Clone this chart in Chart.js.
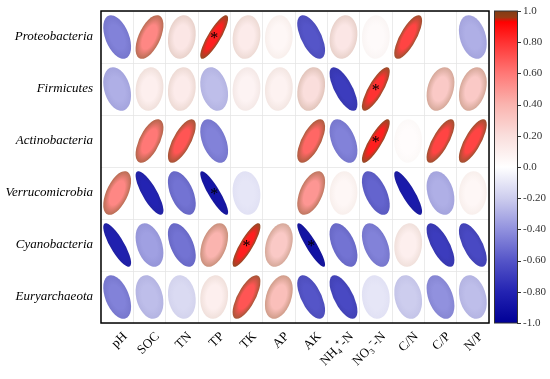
<!DOCTYPE html>
<html>
<head>
<meta charset="utf-8">
<script src="https://cdn.jsdelivr.net/npm/chart.js@4.4.0/dist/chart.umd.min.js"></script>
<style>
  html, body { margin: 0; padding: 0; background: #fff; }
  #wrap { width: 550px; height: 379px; }
</style>
</head>
<body>
<div id="wrap"><canvas id="corrChart"></canvas></div>
<script>
// row / column names
const taxa = ['Proteobacteria', 'Firmicutes', 'Actinobacteria', 'Verrucomicrobia', 'Cyanobacteria', 'Euryarchaeota'];
const soilVars = ['pH', 'SOC', 'TN', 'TP', 'TK', 'AP', 'AK', 'NH\u2084\u207A-N', 'NO\u2083\u207B-N', 'C/N', 'C/P', 'N/P'];

// correlation coefficients, one array per phylum
const proteobacteria  = [-0.45, 0.55, 0.15, 0.85, 0.12, 0.05, -0.60, 0.15, 0.03, 0.75, 0.00, -0.30];
const firmicutes      = [-0.30, 0.10, 0.12, -0.25, 0.07, 0.08, 0.20, -0.70, 0.80, 0.00, 0.30, 0.30];
const actinobacteria  = [0.00, 0.60, 0.70, -0.45, 0.00, 0.00, 0.65, -0.45, 0.85, 0.02, 0.75, 0.75];
const verrucomicrobia = [0.55, -0.80, -0.50, -0.88, -0.10, 0.00, 0.50, 0.05, -0.55, -0.85, -0.30, 0.05];
const cyanobacteria   = [-0.82, -0.35, -0.50, 0.40, 0.85, 0.30, -0.90, -0.50, -0.45, 0.10, -0.70, -0.65];
const euryarchaeota   = [-0.45, -0.25, -0.15, 0.10, 0.70, 0.35, -0.60, -0.65, -0.10, -0.20, -0.40, -0.25];
const rows = [proteobacteria, firmicutes, actinobacteria, verrucomicrobia, cyanobacteria, euryarchaeota];

// significant cells [row, col]
const stars = [[0, 3], [1, 8], [2, 8], [3, 3], [4, 4], [4, 6]];

// colour bar ticks
const barTicks = [-1, -0.8, -0.6, -0.4, -0.2, 0, 0.2, 0.4, 0.6, 0.8, 1];

// colour map stops
const cmap = [
	[-1.0, [0, 0, 150]],
	[-0.8, [35, 35, 178]],
	[-0.6, [85, 85, 200]],
	[-0.4, [145, 145, 222]],
	[-0.2, [205, 205, 238]],
	[0.0, [255, 255, 255]],
	[0.2, [250, 222, 220]],
	[0.4, [250, 180, 175]],
	[0.6, [255, 120, 118]],
	[0.8, [255, 50, 50]],
	[0.93, [255, 0, 0]],
	[0.96, [150, 60, 20]],
	[1.0, [130, 60, 20]],
];

function colorAt(v) {
	for (let i = 1; i < cmap.length; i++) {
		if (v <= cmap[i][0]) {
			const [a, ca] = cmap[i - 1];
			const [b, cb] = cmap[i];
			const t = (v - a) / (b - a);
			return ca.map((c, k) => Math.round(c + (cb[k] - c) * t));
		}
	}
	return cmap[cmap.length - 1][1];
}
const rgb = (c) => `rgb(${c[0]},${c[1]},${c[2]})`;
const mix = (c, d, t) => c.map((v, k) => Math.round(v + (d[k] - v) * t));

const points = [];
rows.forEach((vals, i) => {
	vals.forEach((r, j) => points.push({ x: soilVars[j], y: taxa[i], r: r, sig: false }));
});
stars.forEach(([i, j]) => { points[i * soilVars.length + j].sig = true; });

const ellipsePlugin = {
	id: 'ellipses',
	afterDatasetsDraw(chart) {
		const { ctx, chartArea, scales } = chart;
		const xs = scales.x, ys = scales.y;
		const cw = Math.abs(xs.getPixelForValue(1) - xs.getPixelForValue(0));
		const ch = Math.abs(ys.getPixelForValue(1) - ys.getPixelForValue(0));
		const hw = cw * 0.43, hh = ch * 0.42;
		const meta = chart.getDatasetMeta(0);

		meta.data.forEach((el, idx) => {
			const p = points[idx];
			const r = Math.max(-0.97, Math.min(0.97, p.r));
			const c = colorAt(r);
			const edge = r > 0 ? mix(c, [120, 85, 40], Math.min(1, r * 0.95)) : mix(c, [30, 30, 110], -r * 0.25);
			ctx.save();
			ctx.translate(el.x, el.y);
			ctx.scale(hw, -hh);
			ctx.rotate(Math.PI / 4);
			ctx.scale(Math.sqrt(1 + r), Math.sqrt(1 - r));
			const g = ctx.createRadialGradient(0, 0, 0, 0, 0, 1);
			g.addColorStop(0, rgb(c));
			g.addColorStop(0.55, rgb(c));
			g.addColorStop(1, rgb(edge));
			ctx.fillStyle = g;
			ctx.beginPath();
			ctx.arc(0, 0, 1, 0, Math.PI * 2);
			ctx.fill();
			ctx.restore();
			if (p.sig) {
				ctx.save();
				ctx.fillStyle = '#000';
				ctx.font = '16px "Liberation Serif"';
				ctx.textAlign = 'center';
				ctx.textBaseline = 'alphabetic';
				ctx.fillText('*', el.x, el.y + 6);
				ctx.restore();
			}
		});

		// frame
		ctx.save();
		ctx.strokeStyle = '#000';
		ctx.lineWidth = 1.5;
		ctx.strokeRect(chartArea.left, chartArea.top, chartArea.right - chartArea.left, chartArea.bottom - chartArea.top);
		ctx.restore();

		// colour bar
		const cb = scales.cbar;
		const bx = chartArea.right + 5, bw = 23;
		const top = cb.getPixelForValue(1), bot = cb.getPixelForValue(-1);
		const grad = ctx.createLinearGradient(0, bot, 0, top);
		cmap.forEach(([v, col]) => grad.addColorStop((v + 1) / 2, rgb(col)));
		ctx.save();
		ctx.fillStyle = grad;
		ctx.fillRect(bx, top, bw, bot - top);
		ctx.strokeStyle = '#333';
		ctx.lineWidth = 1;
		ctx.strokeRect(bx + 0.5, top, bw, bot - top);
		barTicks.forEach((v) => {
			const y = Math.round(cb.getPixelForValue(v)) + 0.5;
			ctx.beginPath();
			ctx.moveTo(bx + bw, y);
			ctx.lineTo(bx + bw + 4, y);
			ctx.stroke();
		});
		ctx.restore();
	},
};

const serif = '"Liberation Serif", "Times New Roman", serif';

new Chart(document.getElementById('corrChart'), {
	type: 'scatter',
	data: {
		datasets: [{
			data: points,
			pointRadius: 0,
			pointHoverRadius: 0,
		}],
	},
	options: {
		responsive: true,
		maintainAspectRatio: false,
		animation: false,
		events: [],
		layout: { autoPadding: false, padding: { top: 11, left: 0, right: 0, bottom: 0 } },
		plugins: { legend: { display: false }, tooltip: { enabled: false } },
		scales: {
			x: {
				type: 'category',
				labels: soilVars,
				offset: true,
				grid: { offset: true, color: '#e6e6e6', lineWidth: 0.8, drawTicks: false },
				border: { display: false },
				ticks: {
					autoSkip: false,
					minRotation: 45,
					maxRotation: 45,
					padding: 6,
					labelOffset: 8,
					color: '#000',
					font: { family: serif, size: 13 },
				},
				afterFit(scale) { scale.height = 56; scale.paddingLeft = 0; scale.paddingRight = 0; },
			},
			y: {
				type: 'category',
				labels: taxa,
				offset: true,
				grid: { offset: true, color: '#e6e6e6', lineWidth: 0.8, drawTicks: false },
				border: { display: false },
				ticks: {
					padding: 8,
					color: '#000',
					font: { family: serif, size: 13, style: 'italic' },
				},
				afterFit(scale) { scale.width = 101; scale.paddingTop = 0; scale.paddingBottom = 0; },
			},
			cbar: {
				type: 'linear',
				position: 'right',
				min: -1,
				max: 1,
				grid: { display: false, drawTicks: false },
				border: { display: false },
				afterBuildTicks(scale) { scale.ticks = barTicks.map((v) => ({ value: v })); },
				ticks: {
					padding: 34,
					color: '#333',
					font: { family: serif, size: 11 },
					callback: (v) => {
						const n = Math.round(v * 100) / 100;
						if (n === 0) return '0.0';
						if (Math.abs(n) === 1) return n.toFixed(1);
						return n.toFixed(2);
					},
				},
				afterFit(scale) { scale.width = 61; scale.paddingTop = 0; scale.paddingBottom = 0; },
			},
		},
	},
	plugins: [ellipsePlugin],
});
</script>
</body>
</html>
